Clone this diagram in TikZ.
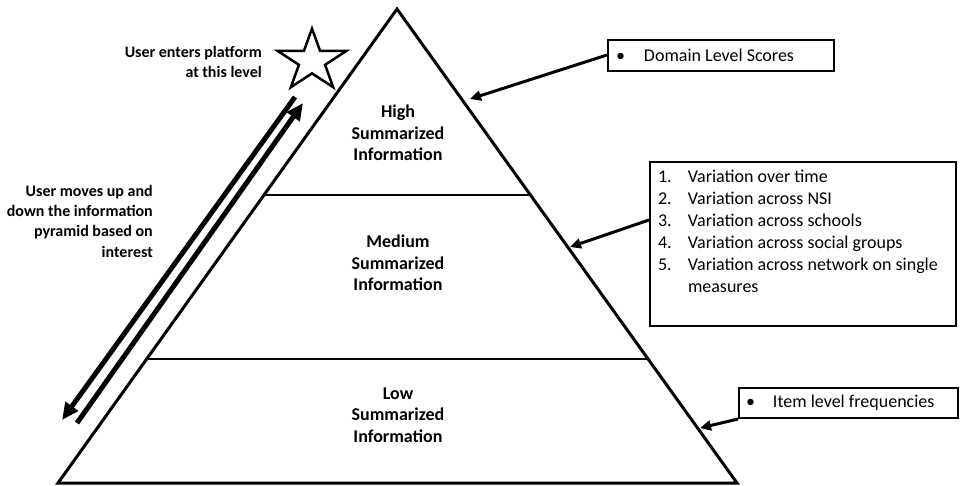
\documentclass[tikz,border=0pt]{standalone}
\usepackage{fontspec}
\setmainfont{Carlito}
\usetikzlibrary{arrows.meta,calc}
\begin{document}
\begin{tikzpicture}[x=1pt,y=-1pt,
  level/.style={align=center,font=\bfseries\fontsize{18}{21.5}\selectfont,inner sep=0},
  note/.style={align=right,font=\bfseries\fontsize{16}{20.3}\selectfont,inner sep=0},
  infobox/.style={draw,line width=2pt,inner sep=0,anchor=north west,font=\fontsize{18}{22}\selectfont},
  boxarrow/.style={line width=3pt,-{Triangle[length=11pt,width=10pt]}},
  bigarrow/.style={line width=5pt,-{Triangle[length=17pt,width=15pt]}}]
\useasboundingbox (0,0) rectangle (960,485);
% pyramid
\coordinate (apex) at (397,9);
\coordinate (bl) at (58,483);
\coordinate (br) at (737,483);
\draw[line width=3pt,line join=miter] (apex) -- (bl) -- (br) -- cycle;
\coordinate (d1l) at (264.5,195);
\coordinate (d1r) at (530,195);
\coordinate (d2l) at (147,359);
\coordinate (d2r) at (648,359);
\draw[line width=1.8pt] (d1l) -- (d1r);
\draw[line width=1.8pt] (d2l) -- (d2r);
% level labels
\node[level] (high) at (398,133) {High\\Summarized\\Information};
\node[level] (medium) at (398,263) {Medium\\Summarized\\Information};
\node[level] (low) at (398,415) {Low\\Summarized\\Information};
% star
\begin{scope}[shift={(312,61)},yscale=-0.9]
\draw[line width=2.5pt,line join=miter]
  (90:36) -- (126:13.75) -- (162:36) -- (198:13.75) -- (234:36) -- (270:13.75)
  -- (306:36) -- (342:13.75) -- (18:36) -- (54:13.75) -- cycle;
\end{scope}
% notes
\node[note,anchor=east] (enters) at (262,62) {User enters platform\\at this level};
\node[note,anchor=east] (moves) at (153,221) {User moves up and\\down the information\\pyramid based on\\interest};
% up/down arrows
\coordinate (downstart) at (295,97);
\coordinate (downend) at (62,420);
\coordinate (upstart) at (77,423);
\coordinate (upend) at (303,103);
\draw[bigarrow] (downstart) -- (downend);
\draw[bigarrow] (upstart) -- (upend);
% boxes
\node[infobox,minimum width=226pt,minimum height=31pt] (box1) at (607,39)
  {\parbox{226pt}{\hspace*{8pt}\makebox[28pt][l]{\textbullet}Domain Level Scores}};
\node[infobox,minimum width=306pt,minimum height=164pt] (box2) at (649,161)
  {\parbox[c][164pt][t]{306pt}{\vspace*{8pt}%
   \hspace*{8pt}\makebox[30pt][l]{1.}Variation over time\\
   \hspace*{8pt}\makebox[30pt][l]{2.}Variation across NSI\\
   \hspace*{8pt}\makebox[30pt][l]{3.}Variation across schools\\
   \hspace*{8pt}\makebox[30pt][l]{4.}Variation across social groups\\
   \hspace*{8pt}\makebox[30pt][l]{5.}Variation across network on single\\
   \hspace*{38pt}measures}};
\node[infobox,minimum width=219pt,minimum height=30pt] (box3) at (738,387)
  {\parbox{219pt}{\hspace*{7pt}\makebox[27pt][l]{\textbullet}Item level frequencies}};
% box connectors
\coordinate (tip1) at (470,99);
\coordinate (tip2) at (570,247);
\coordinate (tip3) at (700,428);
\draw[boxarrow] ($(box1.west)+(0,-0.5)$) -- (tip1);
\draw[boxarrow] ($(box2.west)+(0,-24)$) -- (tip2);
\draw[boxarrow] (box3.south west) -- (tip3);
\end{tikzpicture}
\end{document}
